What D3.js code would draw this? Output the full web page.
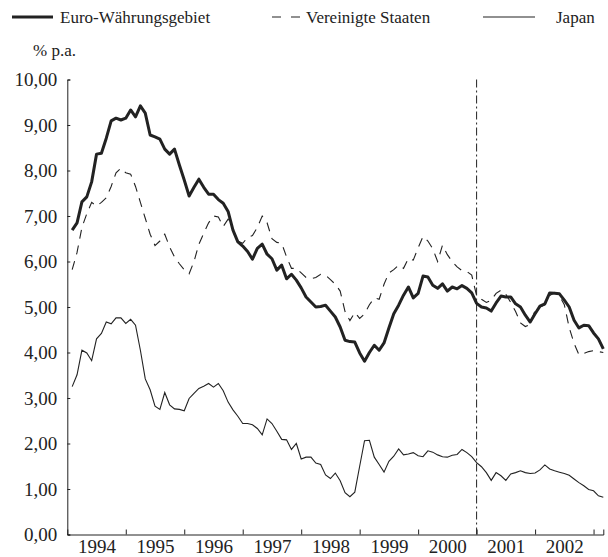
<!DOCTYPE html>
<html>
<head>
<meta charset="utf-8">
<script src="https://cdn.jsdelivr.net/npm/d3@7"></script>
<style>
  body { margin: 0; background: #fff; }
  text { font-family: "Liberation Serif", "Tinos", "Times New Roman", "DejaVu Serif", serif; fill: #222; }
</style>
</head>
<body>
<div class="chart"></div>
<script>
// monthly values, Jan 1994 - Feb 2003
var years = ['1994', '1995', '1996', '1997', '1998', '1999', '2000', '2001', '2002'];
var yTicks = [0, 1, 2, 3, 4, 5, 6, 7, 8, 9, 10];

var euro = [
  6.69, 6.85, 7.31, 7.42, 7.75, 8.36, 8.38, 8.71, 9.09, 9.15,
  9.11, 9.15, 9.33, 9.18, 9.42, 9.26, 8.78, 8.74, 8.69, 8.47,
  8.36, 8.47, 8.12, 7.79, 7.44, 7.63, 7.81, 7.63, 7.48, 7.48,
  7.36, 7.28, 7.10, 6.69, 6.43, 6.34, 6.22, 6.05, 6.29, 6.38,
  6.16, 6.06, 5.81, 5.92, 5.62, 5.72, 5.59, 5.42, 5.22, 5.11,
  5.00, 5.01, 5.04, 4.91, 4.78, 4.56, 4.27, 4.24, 4.23, 3.99,
  3.81, 4.00, 4.16, 4.05, 4.21, 4.54, 4.85, 5.04, 5.26, 5.44,
  5.20, 5.30, 5.68, 5.66, 5.48, 5.41, 5.51, 5.35, 5.44, 5.40,
  5.47, 5.41, 5.31, 5.08, 5.00, 4.98, 4.91, 5.09, 5.24, 5.22,
  5.22, 5.07, 5.00, 4.82, 4.67, 4.85, 5.02, 5.07, 5.31, 5.30,
  5.29, 5.15, 5.00, 4.71, 4.54, 4.60, 4.59, 4.43, 4.30, 4.08
];
var usa = [
  5.82, 6.20, 6.75, 7.05, 7.30, 7.22, 7.30, 7.40, 7.65, 7.95,
  8.05, 7.95, 7.92, 7.65, 7.30, 6.95, 6.60, 6.35, 6.45, 6.60,
  6.32, 6.10, 5.95, 5.82, 5.73, 6.00, 6.38, 6.62, 6.85, 7.00,
  6.98, 6.77, 6.93, 6.70, 6.45, 6.40, 6.53, 6.57, 6.75, 7.00,
  6.85, 6.50, 6.42, 6.40, 6.10, 5.85, 5.85, 5.75, 5.65, 5.62,
  5.65, 5.72, 5.70, 5.60, 5.50, 5.35, 4.90, 4.70, 4.88, 4.75,
  4.85, 5.05, 5.20, 5.17, 5.50, 5.75, 5.82, 5.92, 5.85, 6.07,
  6.03, 6.30, 6.55, 6.45, 6.28, 6.00, 6.36, 6.15, 6.00, 5.88,
  5.80, 5.78, 5.70, 5.25, 5.17, 5.10, 5.15, 5.30, 5.37, 5.28,
  5.10, 4.90, 4.65, 4.57, 4.62, 4.93, 5.00, 5.05, 5.25, 5.32,
  5.25, 5.05, 4.55, 4.20, 3.95, 3.98, 4.02, 4.04, 4.02, 4.00
];
var japan = [
  3.25, 3.51, 4.05, 3.99, 3.82, 4.30, 4.42, 4.67, 4.63, 4.76,
  4.76, 4.64, 4.73, 4.60, 4.05, 3.42, 3.18, 2.82, 2.75, 3.12,
  2.85, 2.76, 2.75, 2.72, 2.99, 3.10, 3.21, 3.26, 3.32, 3.24,
  3.32, 3.16, 2.91, 2.74, 2.60, 2.44, 2.44, 2.41, 2.33, 2.19,
  2.54, 2.44, 2.27, 2.09, 2.08, 1.87, 2.00, 1.66, 1.70, 1.70,
  1.57, 1.54, 1.31, 1.23, 1.35, 1.18, 0.92, 0.83, 0.93, 1.50,
  2.06, 2.07, 1.70, 1.54, 1.37, 1.61, 1.72, 1.88, 1.75, 1.77,
  1.80, 1.73, 1.71, 1.84, 1.81, 1.75, 1.71, 1.70, 1.74, 1.76,
  1.87, 1.80, 1.71, 1.58, 1.49, 1.36, 1.19, 1.36, 1.29, 1.19,
  1.33, 1.36, 1.40, 1.36, 1.34, 1.35, 1.42, 1.53, 1.44, 1.40,
  1.37, 1.34, 1.30, 1.22, 1.14, 1.07, 0.99, 0.96, 0.85, 0.82
];
var breakMonth = 83; // change of euro area composition, end 2000

var width = 608;
var height = 557;

var x = d3.scaleLinear().domain([-1, 109]).range([67.3, 603.3]);
var y = d3.scaleLinear().domain([0, 10]).range([534.5, 79.5]);

var svg = d3.select('.chart').append('svg').attr('width', width).attr('height', height);

// y axis, ticks pointing inwards
var yAxis = d3.axisLeft(y).tickValues(yTicks).tickSize(-3).tickPadding(10)
  .tickFormat(function (d) { return d3.format('.2f')(d).replace('.', ','); });
var gy = svg.append('g').attr('transform', 'translate(' + x(-1) + ',0)').call(yAxis);
gy.attr('font-family', null);
gy.selectAll('text').style('font-size', '19px');

// x axis: ticks at year ends, labels in the middle of each year
var yearEnds = years.map(function (d, i) { return 11 + 12 * i; });
var yearMids = years.map(function (d, i) { return 5 + 12 * i; });
var xAxis = d3.axisBottom(x).tickValues(yearEnds).tickSize(-5).tickFormat('');
svg.append('g').attr('transform', 'translate(0,' + y(0) + ')').call(xAxis);
var xLabels = d3.axisBottom(x).tickValues(yearMids).tickSize(0).tickPadding(5)
  .tickFormat(function (d, i) { return years[i]; });
var gx = svg.append('g').attr('transform', 'translate(0,' + y(0) + ')').call(xLabels);
gx.attr('font-family', null);
gx.select('.domain').remove();
gx.selectAll('text').style('font-size', '19px');

svg.selectAll('.domain, .tick line').attr('stroke', '#222');

// vertical dash-dot marker
svg.append('line')
  .attr('x1', x(breakMonth)).attr('x2', x(breakMonth))
  .attr('y1', y(10)).attr('y2', y(0))
  .attr('stroke', '#222').attr('stroke-width', 1)
  .attr('stroke-dasharray', '8,3,2,3');

var line = d3.line()
  .x(function (d, i) { return x(i); })
  .y(function (d) { return y(d); });

svg.append('path').datum(japan).attr('d', line)
  .attr('fill', 'none').attr('stroke', '#222').attr('stroke-width', 1.1);
svg.append('path').datum(usa).attr('d', line)
  .attr('fill', 'none').attr('stroke', '#222').attr('stroke-width', 1.1)
  .attr('stroke-dasharray', '9,7');
svg.append('path').datum(euro).attr('d', line)
  .attr('fill', 'none').attr('stroke', '#222').attr('stroke-width', 3)
  .attr('stroke-linejoin', 'round');

// unit
svg.append('text').attr('x', 33).attr('y', 56).style('font-size', '17px').text('% p.a.');

// legend
var legend = svg.append('g').attr('transform', 'translate(0,17)');
legend.append('line').attr('x1', 12).attr('x2', 53).attr('y1', 0).attr('y2', 0)
  .attr('stroke', '#222').attr('stroke-width', 3);
legend.append('text').attr('x', 60).attr('y', 6).style('font-size', '17px').text('Euro-Währungsgebiet');
legend.append('line').attr('x1', 272).attr('x2', 300).attr('y1', 0).attr('y2', 0)
  .attr('stroke', '#222').attr('stroke-width', 1.1).attr('stroke-dasharray', '9,10');
legend.append('text').attr('x', 306).attr('y', 6).style('font-size', '17px').text('Vereinigte Staaten');
legend.append('line').attr('x1', 483).attr('x2', 535).attr('y1', 0).attr('y2', 0)
  .attr('stroke', '#222').attr('stroke-width', 1.1);
legend.append('text').attr('x', 556).attr('y', 6).style('font-size', '17px').text('Japan');
</script>
</body>
</html>
